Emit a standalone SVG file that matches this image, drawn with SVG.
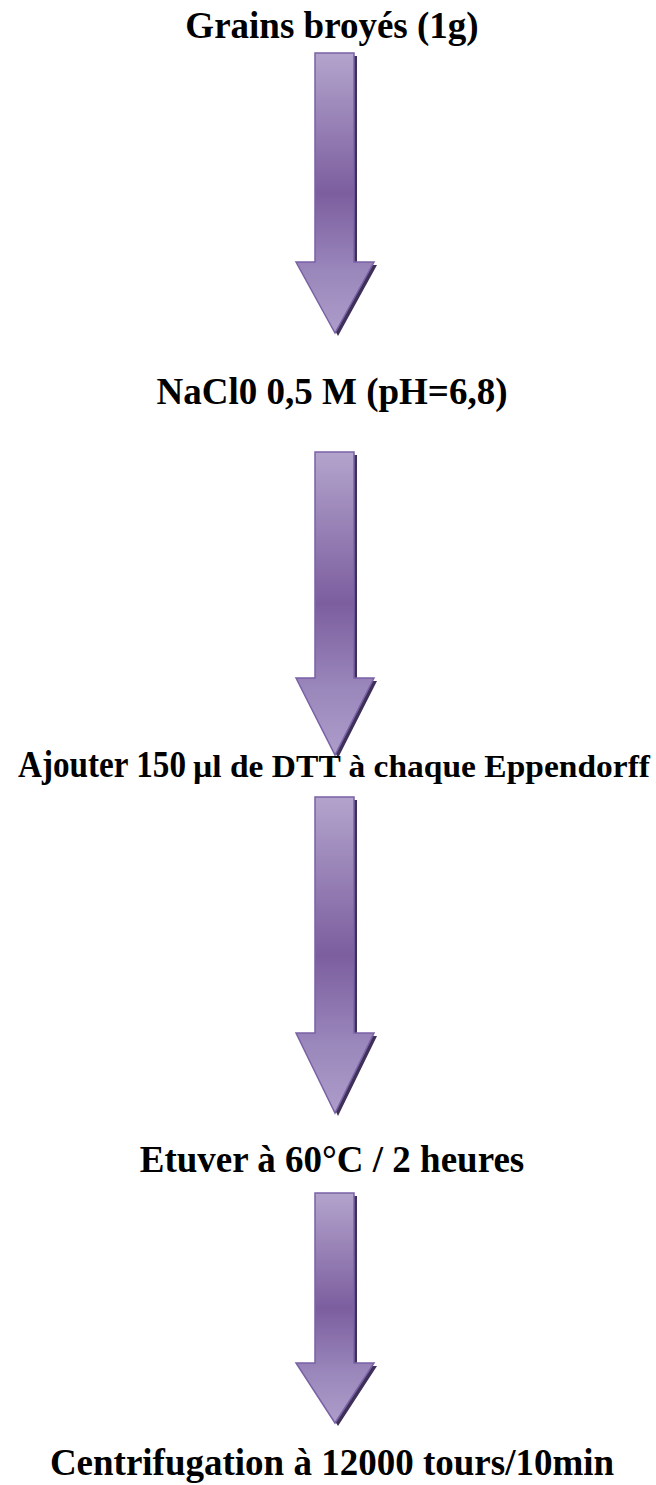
<svg xmlns="http://www.w3.org/2000/svg" width="656" height="1485" viewBox="0 0 656 1485">
<defs>
<linearGradient id="g" x1="0" y1="0" x2="0" y2="1">
<stop offset="0" stop-color="#b3a4cc"/>
<stop offset="0.5" stop-color="#7c5e9f"/>
<stop offset="0.78" stop-color="#9a87bb"/>
<stop offset="1" stop-color="#ad9dca"/>
</linearGradient>
<style>
.t{font-family:"Liberation Serif","Times New Roman",serif;font-weight:bold;font-size:37px;fill:#000;text-anchor:middle}
.a{fill:url(#g);stroke:#7a62a6;stroke-width:1.5;stroke-linejoin:miter}
.s{fill:#3e3058;stroke:none}
</style>
</defs>
<rect width="656" height="1485" fill="#fff"/>
<g id="connectors">
<g id="arrow1">
<path class="s" transform="translate(3,3)" d="M315,53H354V262H374L335,333L296,262H315Z"/>
<path class="a" d="M315,53H354V262H374L335,333L296,262H315Z"/>
</g>
<g id="arrow2">
<path class="s" transform="translate(3,3)" d="M315,452H354V678H374L335,755L296,678H315Z"/>
<path class="a" d="M315,452H354V678H374L335,755L296,678H315Z"/>
</g>
<g id="arrow3">
<path class="s" transform="translate(3,3)" d="M315,797H354V1033H374L335,1113L296,1033H315Z"/>
<path class="a" d="M315,797H354V1033H374L335,1113L296,1033H315Z"/>
</g>
<g id="arrow4">
<path class="s" transform="translate(3,3)" d="M315,1193H354V1363H374L335,1423L296,1363H315Z"/>
<path class="a" d="M315,1193H354V1363H374L335,1423L296,1363H315Z"/>
</g>
</g>
<g id="node1"><text class="t" x="332" y="38">Grains broyés (1g)</text></g>
<g id="node2"><text class="t" x="332" y="404">NaCl0 0,5 M (pH=6,8)</text></g>
<g id="node3">
<text class="t" x="18" y="777" style="text-anchor:start" textLength="168" lengthAdjust="spacingAndGlyphs">Ajouter 150</text>
<text class="t" x="193" y="777" style="text-anchor:start;font-size:31px" textLength="457" lengthAdjust="spacingAndGlyphs">µl de DTT à chaque Eppendorff</text>
</g>
<g id="node4"><text class="t" x="332" y="1172">Etuver à 60°C / 2 heures</text></g>
<g id="node5"><text class="t" x="332" y="1475">Centrifugation à 12000 tours/10min</text></g>
</svg>
